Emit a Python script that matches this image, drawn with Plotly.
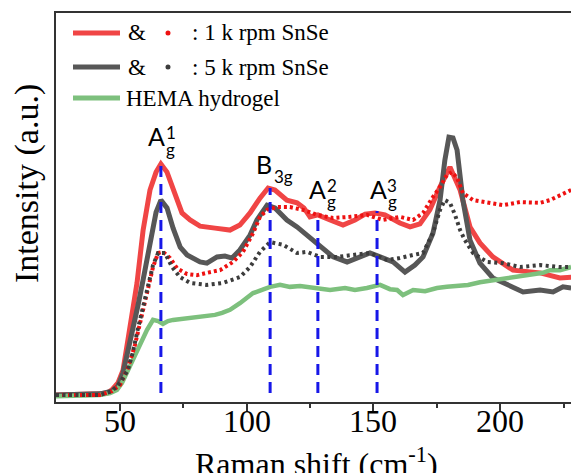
import plotly.graph_objects as go

# ---------------- data ----------------
red_line_x = [25, 34.4, 42.3, 45.1, 47.0, 49.4, 51.4, 53.3, 55.3, 56.9, 59.3, 62.0, 64.4, 66.3, 68.7, 71.5,
              74.6, 77.8, 81.7, 87.6, 93.5, 97.4, 101.4, 105.3, 108.5, 111.2, 115.9, 119.9, 122.6, 125.0,
              128.1, 132.9, 138.0, 142.7, 146.7, 150.6, 154.5, 160.4, 164.4, 168.3, 172.2, 176.2, 180.1,
              184.1, 188.0, 191.9, 197.0, 204.9, 215.6, 223.4, 227.8]
red_line_y = [1.8, 1.8, 2.1, 2.3, 3.1, 4.9, 8.2, 15.9, 23.7, 30.6, 44.2, 54.5, 59.1, 61.2, 59.1, 54.0,
              48.6, 46.8, 45.2, 44.7, 44.2, 45.5, 48.6, 52.4, 55.0, 54.5, 51.9, 51.2, 49.9, 47.6,
              48.1, 46.8, 45.5, 46.8, 48.3, 48.6, 48.1, 46.0, 45.0, 45.8, 49.4, 55.3, 60.4,
              54.5, 45.0, 40.9, 37.3, 33.9, 33.2, 31.9, 32.1]

grey_line_x = [25, 42.3, 47.0, 49.4, 51.4, 53.3, 55.3, 57.3, 59.3, 62.0, 64.4, 66.3, 68.7, 71.1, 73.9,
               76.6, 81.7, 84.4, 88.4, 91.5, 94.3, 97.4, 101.4, 104.1, 108.1, 111.2, 115.9, 119.9, 123.8,
               129.0, 134.1, 139.6, 143.9, 148.6, 152.6, 157.7, 162.4, 166.3, 169.5, 173.4, 176.2, 178.1,
               179.7, 181.3, 182.9, 185.2, 188.0, 191.9, 197.0, 202.6, 208.9, 215.6, 220.7, 224.6, 227.8]
grey_line_y = [1.8, 2.1, 2.8, 4.1, 7.5, 12.9, 18.5, 24.9, 31.4, 41.6, 48.8, 51.9, 49.9, 44.7, 39.8,
               37.8, 36.0, 35.7, 37.3, 37.5, 37.0, 39.1, 42.9, 46.8, 50.6, 49.9, 46.8, 45.0, 42.9,
               39.8, 37.3, 36.0, 37.0, 38.3, 37.3, 36.0, 33.4, 35.2, 37.3, 43.4, 51.9, 62.2,
               68.1, 67.9, 64.8, 51.9, 41.6, 35.7, 31.9, 30.1, 28.3, 28.8, 28.3, 29.6, 29.3]

green_line_x = [25, 42.3, 46.3, 49.0, 51.0, 53.3, 56.9, 60.8, 63.2, 65.2, 67.1, 69.1, 71.1, 73.8, 77.8,
                81.7, 84.4, 87.6, 90.4, 93.5, 97.4, 102.6, 106.1, 109.3, 113.2, 117.1, 121.1, 126.2,
                129.7, 132.9, 138.8, 142.7, 147.4, 152.6, 156.5, 159.3, 161.6, 165.6, 170.3, 175.0,
                178.9, 182.9, 187.2, 191.9, 198.6, 204.9, 211.6, 216.7, 219.5, 223.4, 227.8]
green_line_y = [1.5, 1.8, 2.3, 3.1, 4.9, 8.2, 13.4, 18.5, 21.1, 20.8, 20.1, 20.8, 21.1, 21.3, 21.6,
                21.9, 21.9, 22.4, 22.9, 23.7, 25.4, 28.0, 28.8, 29.6, 30.1, 29.6, 29.8, 29.3,
                29.0, 28.8, 29.3, 28.8, 29.3, 30.1, 29.0, 28.8, 27.5, 28.8, 28.5, 29.3,
                29.6, 29.8, 30.1, 30.8, 31.4, 31.9, 32.6, 33.2, 33.9, 33.9, 34.7]

red_dot_x = [25, 42.3, 47.0, 50.2, 53.3, 56.1, 59.3, 61.2, 63.2, 65.2, 67.1, 69.9, 72.6, 76.6, 80.5,
             84.4, 89.6, 94.7, 98.6, 102.6, 105.3, 108.1, 112.0, 117.1, 122.2, 127.8, 134.1, 140.7,
             147.4, 153.7, 160.4, 165.6, 169.5, 173.4, 176.2, 178.9, 180.9, 182.9, 185.2, 189.2,
             194.7, 201.0, 207.7, 215.6, 219.5, 223.4, 227.8]
red_dot_y = [1.8, 1.8, 2.8, 4.4, 8.7, 14.7, 23.7, 29.6, 34.7, 38.3, 38.6, 37.0, 34.4, 32.9, 32.6,
             33.2, 33.9, 36.0, 38.6, 43.4, 47.6, 49.4, 50.1, 50.1, 49.4, 48.1, 47.3, 47.6,
             48.1, 46.8, 47.6, 46.8, 48.6, 52.7, 55.3, 58.4, 59.1, 57.6, 53.7, 51.9,
             51.2, 50.6, 51.4, 51.2, 51.9, 53.2, 54.5]

grey_dot_x = [25, 42.3, 47.0, 50.2, 53.3, 55.3, 57.3, 59.3, 61.2, 63.2, 65.2, 67.9, 70.7, 73.8, 77.8,
              84.4, 90.7, 97.4, 101.4, 105.3, 109.3, 114.4, 119.9, 123.8, 129.0, 135.6, 141.9, 148.6,
              155.3, 160.4, 165.6, 169.5, 173.4, 176.2, 178.1, 180.1, 182.1, 184.1, 186.0, 189.2,
              194.7, 201.0, 207.7, 215.6, 223.4, 227.8]
grey_dot_y = [1.8, 1.8, 2.8, 4.9, 8.2, 12.9, 19.0, 24.4, 30.6, 35.2, 38.3, 38.3, 34.7, 32.1, 30.6,
              30.1, 30.6, 32.1, 34.7, 38.6, 41.1, 40.4, 38.3, 38.6, 37.3, 37.3, 37.8, 38.3,
              36.5, 37.0, 37.8, 38.3, 43.4, 49.4, 51.9, 51.2, 48.1, 44.2, 41.6, 38.3,
              36.0, 35.7, 34.7, 35.2, 34.7, 34.7]

peak_x = [66.3, 109.3, 128.1, 151.4]
peak_top = [61.4, 55.0, 48.6, 49.1]
peak_base = 2.3

x_ticks = [50, 100, 150, 200]
x_tick_labels = ["50", "100", "150", "200"]
x_minor_ticks = [75, 125, 175, 225]
x_range = [25, 227.76]
y_range = [0, 100]

legend_labels = [": 1 k rpm SnSe", ": 5 k rpm SnSe", "HEMA hydrogel"]

# ---------------- layout helpers (pixels -> paper) ----------------
W, H = 571, 473
ML, MR, MT, MB = 56, 0, 13, 71
PW, PH = W - ML - MR, H - MT - MB
BOTTOM = H - MB


def pxx(xp):
    return (xp - ML) / PW


def pxy(yp):
    return (BOTTOM - yp) / PH


SERIF = "Liberation Serif"
RED = "#f04545"
GREY = "#575757"
GREEN = "#7dc07d"
RED_DOT = "#ee1111"
GREY_DOT = "#3c3c3c"
BLUE = "#1717e8"

fig = go.Figure()
fig.add_trace(go.Scatter(x=red_line_x, y=red_line_y, mode="lines",
                         line=dict(color=RED, width=5), hoverinfo="skip"))
fig.add_trace(go.Scatter(x=grey_line_x, y=grey_line_y, mode="lines",
                         line=dict(color=GREY, width=5), hoverinfo="skip"))
fig.add_trace(go.Scatter(x=green_line_x, y=green_line_y, mode="lines",
                         line=dict(color=GREEN, width=4.5), hoverinfo="skip"))
fig.add_trace(go.Scatter(x=red_dot_x, y=red_dot_y, mode="lines",
                         line=dict(color=RED_DOT, width=4, dash="3px,3px"), hoverinfo="skip"))
fig.add_trace(go.Scatter(x=grey_dot_x, y=grey_dot_y, mode="lines",
                         line=dict(color=GREY_DOT, width=4, dash="3px,3.5px"), hoverinfo="skip"))
for xv, top in zip(peak_x, peak_top):
    fig.add_trace(go.Scatter(x=[xv, xv], y=[peak_base, top], mode="lines",
                             line=dict(color=BLUE, width=3, dash="11px,7px"), hoverinfo="skip"))

fig.update_layout(
    width=W, height=H,
    margin=dict(l=ML, r=MR, t=MT, b=MB, pad=0),
    plot_bgcolor="white", paper_bgcolor="white",
    showlegend=False,
    font=dict(family=SERIF, color="black"),
)
fig.update_xaxes(
    range=x_range, tickvals=x_ticks, showticklabels=False,
    ticks="outside", ticklen=7, tickwidth=2, tickcolor="#333",
    showline=True, linewidth=2, linecolor="#333", mirror=True, showgrid=False, zeroline=False,
    minor=dict(tickvals=x_minor_ticks, ticks="outside", ticklen=4, tickwidth=2, tickcolor="#333"),
)
fig.update_yaxes(
    range=y_range, showticklabels=False, ticks="", showline=True, linewidth=2, linecolor="#333",
    mirror=False, showgrid=False, zeroline=False,
)

ann = []
# tick labels
for tv, tl in zip(x_ticks, x_tick_labels):
    ann.append(dict(text=tl, x=tv, xref="x", y=pxy(421), yref="paper", showarrow=False,
                    xanchor="center", yanchor="middle",
                    font=dict(family=SERIF, size=32, color="black")))
# axis titles
ann.append(dict(text="Raman shift (cm<sup>-1</sup>)", x=pxx(316), y=pxy(462), xref="paper", yref="paper",
                showarrow=False, xanchor="center", yanchor="middle",
                font=dict(family=SERIF, size=32, color="black")))
ann.append(dict(text="Intensity (a.u.)", x=pxx(27), y=pxy(184), xref="paper", yref="paper",
                showarrow=False, xanchor="center", yanchor="middle", textangle=-90,
                font=dict(family=SERIF, size=34, color="black")))

# legend (manual)
leg_rows = [33, 67, 98]
leg_cols = [RED, GREY, GREEN]
dot_cols = [RED_DOT, GREY_DOT, None]
shapes = []
for i, (ry, lc) in enumerate(zip(leg_rows, leg_cols)):
    shapes.append(dict(type="line", xref="paper", yref="paper", x0=pxx(73), x1=pxx(120),
                       y0=pxy(ry), y1=pxy(ry), line=dict(color=lc, width=5)))
    if dot_cols[i]:
        shapes.append(dict(type="circle", xref="paper", yref="paper",
                           x0=pxx(165.5), x1=pxx(170.5), y0=pxy(ry + 2.5), y1=pxy(ry - 2.5),
                           fillcolor=dot_cols[i], line=dict(width=0)))
        ann.append(dict(text="&amp;", x=pxx(126), y=pxy(ry), xref="paper", yref="paper",
                        showarrow=False, xanchor="left", yanchor="middle",
                        font=dict(family=SERIF, size=23, color="black")))
        ann.append(dict(text=legend_labels[i], x=pxx(190), y=pxy(ry), xref="paper", yref="paper",
                        showarrow=False, xanchor="left", yanchor="middle",
                        font=dict(family=SERIF, size=23, color="black")))
    else:
        ann.append(dict(text=legend_labels[i], x=pxx(124), y=pxy(ry), xref="paper", yref="paper",
                        showarrow=False, xanchor="left", yanchor="middle",
                        font=dict(family=SERIF, size=23, color="black")))

# peak labels: (main letter, main x offset, main y px, sub text, sub y px, sup text, sup y px, small x offset)
LBL_FONT = "Lato"
labels = [
    ("A", -4, 136, "g", 149, "1", 132, 10),
    ("B", -6, 164, "3g", 176, None, None, 13),
    ("A", 0, 189, "g", 201, "2", 186, 14),
    ("A", 1, 189, "g", 201, "3", 186, 15),
]
for xv, (main, mdx, my, sub, sy, sup, supy, sdx) in zip(peak_x, labels):
    ann.append(dict(text=main, x=xv, xref="x", y=pxy(my), yref="paper", xshift=mdx,
                    showarrow=False, xanchor="center", yanchor="middle",
                    font=dict(family=LBL_FONT, size=25, color="black")))
    ann.append(dict(text=sub, x=xv, xref="x", y=pxy(sy), yref="paper", xshift=sdx,
                    showarrow=False, xanchor="center", yanchor="middle",
                    font=dict(family=LBL_FONT, size=17, color="black")))
    if sup:
        ann.append(dict(text=sup, x=xv, xref="x", y=pxy(supy), yref="paper", xshift=sdx,
                        showarrow=False, xanchor="center", yanchor="middle",
                        font=dict(family=LBL_FONT, size=17, color="black")))

fig.update_layout(annotations=ann, shapes=shapes)
fig.write_html("out.html")
